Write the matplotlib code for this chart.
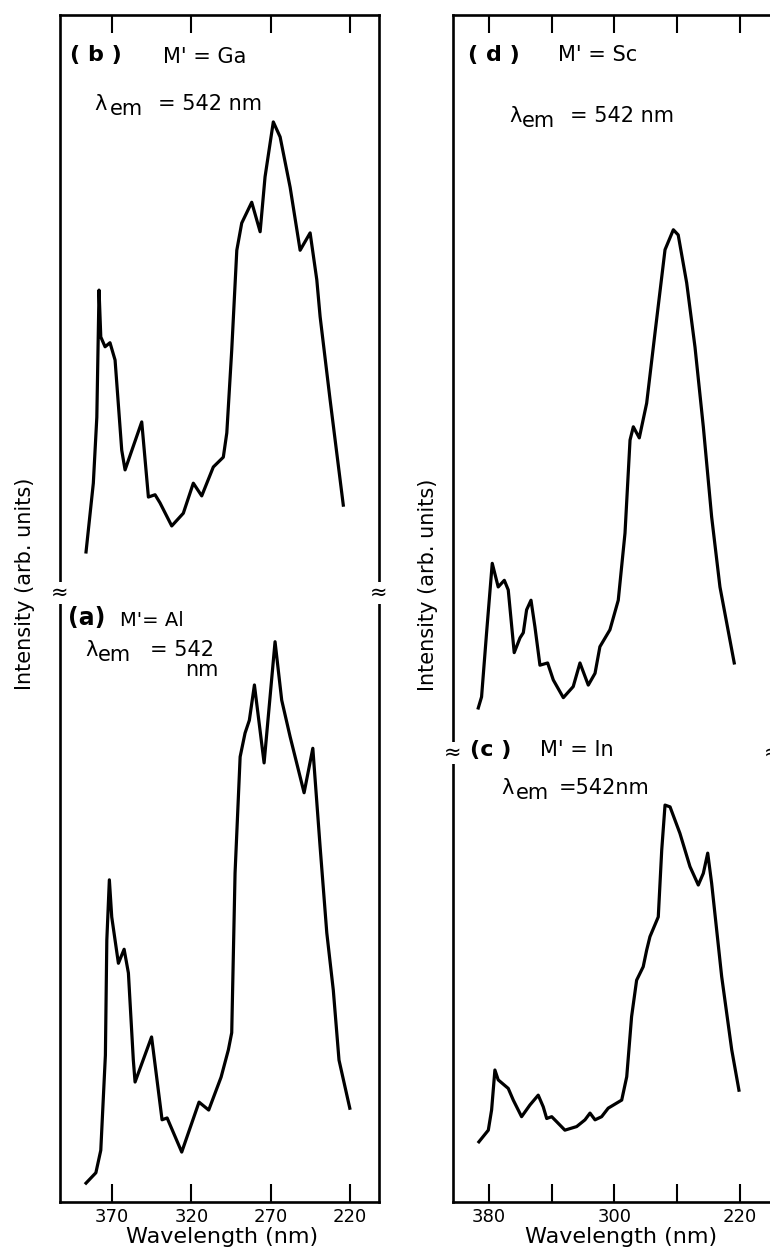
import matplotlib
matplotlib.use("Agg")
import matplotlib.pyplot as plt

# ===== DATA (excitation spectra, lambda_em = 542 nm) =====
# (b) M' = Ga
wl_ga = [386.4, 381.8, 379.6, 378.2, 377.1, 374.4, 371.3, 368.1, 363.9, 361.8,
         351.3, 347.1, 342.9, 339.8, 332.4, 325.1, 318.8, 313.5, 306.2, 299.9,
         297.7, 294.6, 291.4, 288.3, 282.0, 276.7, 273.6, 268.4, 264.1, 257.8,
         251.5, 245.2, 241.0, 238.9, 232.6, 224.3]
int_ga = [7.1, 19.0, 30.4, 52.4, 44.3, 42.6, 43.3, 40.3, 24.7, 21.3,
          29.6, 16.6, 17.0, 15.6, 11.6, 13.8, 19.0, 16.8, 21.8, 23.5,
          27.7, 42.0, 59.3, 64.0, 67.6, 62.5, 72.0, 81.5, 78.9, 70.2,
          59.3, 62.3, 54.2, 47.8, 33.4, 15.2]

# (a) M' = Al
wl_al = [386.4, 380.2, 377.1, 374.2, 373.3, 371.7, 370.2, 366.0, 362.4, 359.7,
         356.6, 355.5, 345.1, 338.5, 335.3, 326.1, 315.2, 309.1, 301.3, 296.7,
         294.6, 292.5, 289.3, 286.2, 283.5, 280.3, 274.2, 267.3, 263.1, 257.8,
         249.0, 243.5, 238.9, 234.7, 230.6, 227.0, 220.2]
int_al = [3.1, 4.8, 8.5, 24.1, 43.0, 52.9, 46.8, 39.2, 41.5, 37.6,
          23.3, 19.7, 27.1, 13.5, 13.8, 8.2, 16.4, 15.1, 20.5, 25.0,
          27.8, 54.0, 73.1, 77.0, 79.1, 84.9, 72.1, 92.0, 82.4, 76.4,
          67.2, 74.5, 58.3, 44.2, 34.8, 23.3, 15.4]

# (d) M' = Sc
wl_sc = [386.8, 384.7, 381.5, 377.9, 374.1, 370.2, 367.7, 363.9, 360.2, 358.1,
         356.0, 353.2, 350.7, 347.5, 342.6, 339.0, 332.6, 326.3, 322.0, 316.7,
         312.4, 309.3, 302.9, 297.6, 293.3, 290.1, 288.0, 284.2, 279.5, 274.2,
         267.8, 262.5, 259.4, 254.0, 248.7, 243.4, 238.1, 232.8, 223.7]
int_sc = [6.1, 7.6, 16.3, 25.7, 22.5, 23.4, 22.1, 13.6, 15.6, 16.3,
          19.4, 20.7, 17.1, 11.9, 12.2, 9.9, 7.5, 9.0, 12.2, 9.2,
          10.8, 14.4, 16.7, 20.7, 29.8, 42.4, 44.2, 42.7, 47.4, 56.9,
          68.2, 70.9, 70.2, 63.7, 55.0, 44.2, 32.0, 22.5, 12.2]

# (c) M' = In
wl_in = [386.4, 380.4, 378.3, 376.2, 374.1, 367.7, 364.5, 359.2, 353.9, 348.6,
         345.4, 343.2, 340.0, 336.9, 331.6, 324.1, 318.8, 315.6, 312.4, 308.2,
         304.0, 295.4, 292.2, 289.1, 285.9, 281.7, 279.5, 277.4, 272.1, 269.9,
         267.8, 264.6, 258.3, 251.9, 246.6, 243.4, 240.6, 238.1, 231.7, 225.3,
         220.7]
int_in = [13.4, 16.0, 20.5, 29.4, 27.2, 25.3, 22.7, 19.0, 21.6, 23.8,
          21.2, 18.6, 19.0, 17.9, 16.0, 16.8, 18.3, 19.8, 18.3, 19.0,
          20.9, 22.7, 27.9, 41.3, 49.4, 52.4, 56.1, 59.1, 63.5, 78.4,
          88.4, 88.0, 82.1, 74.7, 70.6, 73.2, 77.7, 71.0, 50.2, 33.9,
          24.9]

ticks_left = [370, 320, 270, 220]
ticks_right = [380, 340, 300, 260, 220]
labels_right = ["380", "", "300", "", "220"]

W, H = 770, 1250
fig = plt.figure(figsize=(W / 100, H / 100), dpi=100)
plt.rcParams['font.family'] = ['DejaVu Sans']

LW = 2.3


def px(x0, y0, x1, y1):
    # pixel box -> figure fraction rect
    return [x0 / W, 1 - y1 / H, (x1 - x0) / W, (y1 - y0) / H]


def style(ax, xlim, ticks, labels, where):
    ax.set_xlim(*xlim)
    ax.set_ylim(0, 100)
    ax.set_yticks([])
    ax.set_xticks(ticks)
    for s in ax.spines.values():
        s.set_linewidth(1.9)
    if where == "top":
        ax.spines['bottom'].set_visible(False)
        ax.tick_params(axis='x', direction='in', top=True, bottom=False,
                       labeltop=False, labelbottom=False, length=13, width=1.5)
    else:
        ax.spines['top'].set_visible(False)
        ax.set_xticklabels(labels)
        ax.tick_params(axis='x', direction='in', top=False, bottom=True,
                       length=13, width=1.5, pad=4, labelsize=13)


def brk(ax, xs=(0, 1)):
    for xx in xs:
        ax.text(xx, 1, "≈", transform=ax.transAxes, ha='center', va='center',
                fontsize=15, bbox=dict(fc='white', ec='none', pad=0.5),
                clip_on=False, zorder=6)


xl_left = (402.8, 201.8)
xl_right = (402.9, 199.0)

# ===== LEFT COLUMN =====
ax_b = fig.add_axes(px(60, 15, 379, 593))
ax_b.plot(wl_ga, int_ga, color='black', lw=LW, solid_joinstyle='round')
style(ax_b, xl_left, ticks_left, None, "top")

ax_a = fig.add_axes(px(60, 593, 379, 1202))
ax_a.plot(wl_al, int_al, color='black', lw=LW, solid_joinstyle='round')
style(ax_a, xl_left, ticks_left, [str(t) for t in ticks_left], "bottom")
brk(ax_a)

# ===== RIGHT COLUMN (right edge runs off the page) =====
ax_d = fig.add_axes(px(453, 15, 773, 753))
ax_d.plot(wl_sc, int_sc, color='black', lw=LW, solid_joinstyle='round')
style(ax_d, xl_right, ticks_right, None, "top")

ax_c = fig.add_axes(px(453, 753, 773, 1202))
ax_c.plot(wl_in, int_in, color='black', lw=LW, solid_joinstyle='round')
style(ax_c, xl_right, ticks_right, labels_right, "bottom")
brk(ax_c)

# ===== ANNOTATIONS =====
def t(x, y, s, size=15, **kw):
    fig.text(x / W, 1 - y / H, s, fontsize=size, va='center', **kw)


def lam(x, x_em, x_rest, y, rest, size=15):
    # "λem = 542 nm" with the "em" dropped below the line
    t(x, y, "λ", size)
    t(x_em, y + 5, "em", size)
    t(x_rest, y, rest, size)


t(70, 55, "( b )", 16, fontweight='bold')
t(163, 57, "M' = Ga", 15)
lam(94, 110, 158, 104, "= 542 nm")

t(68, 618, "(a)", 17, fontweight='bold')
t(120, 620, "M'= Al", 14)
lam(85, 98, 150, 650, "= 542")
t(185, 670, "nm", 15)

t(468, 55, "( d )", 16, fontweight='bold')
t(558, 55, "M' = Sc", 15)
lam(509, 522, 570, 116, "= 542 nm")

t(470, 750, "(c )", 16, fontweight='bold')
t(540, 750, "M' = In", 15)
lam(501, 516, 559, 788, "=542nm")

# axis labels
t(222, 1237, "Wavelength (nm)", 16, ha='center')
t(621, 1237, "Wavelength (nm)", 16, ha='center')
fig.text(25 / W, 1 - 584 / H, "Intensity (arb. units)", fontsize=15,
         rotation=90, ha='center', va='center')
fig.text(428 / W, 1 - 585 / H, "Intensity (arb. units)", fontsize=15,
         rotation=90, ha='center', va='center')

plt.savefig("out.png", dpi=100)
